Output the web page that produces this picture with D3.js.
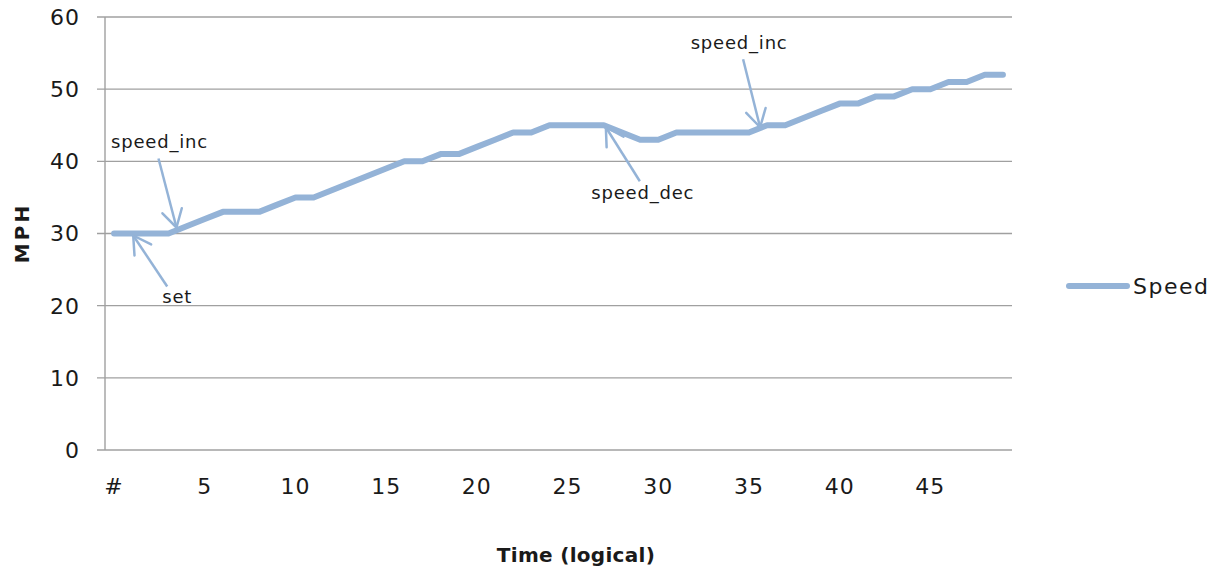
<!DOCTYPE html>
<html>
<head>
<meta charset="utf-8">
<script src="https://cdn.jsdelivr.net/npm/d3@7"></script>
<style>
  html, body { margin: 0; padding: 0; background: #fff; }
  svg { display: block; }
</style>
</head>
<body>
<svg id="chart" width="1228" height="574"></svg>
<script>
// ---- data ----
const categories = d3.range(0, 50);
const speed = [
  30, 30, 30, 30, 31, 32, 33, 33, 33, 34,
  35, 35, 36, 37, 38, 39, 40, 40, 41, 41,
  42, 43, 44, 44, 45, 45, 45, 45, 44, 43,
  43, 44, 44, 44, 44, 44, 45, 45, 46, 47,
  48, 48, 49, 49, 50, 50, 51, 51, 52, 52
];
const xTickIndices = [0, 5, 10, 15, 20, 25, 30, 35, 40, 45];
const xTickLabels = ["#", "5", "10", "15", "20", "25", "30", "35", "40", "45"];
const yTicks = [0, 10, 20, 30, 40, 50, 60];
const seriesName = "Speed";
const annoLabels = ["set", "speed_inc", "speed_dec", "speed_inc"];
const annoIndex = [1, 3, 27, 36];
const annoValue = [30, 30, 45, 45];

// ---- layout ----
const plot = { left: 105, right: 1012, top: 17, bottom: 450 };
const lineColor = "#94B3D7";
const gridColor = "#a0a0a0";
const textColor = "#1a1a1a";
const font = "'DejaVu Sans', sans-serif";
// annotation geometry offsets (tip, tail, text) relative to the anchor data point
const annoGeom = [
  { tip: [1, 2],  tail: [35, 53],   text: [45, 69] },
  { tip: [8, -6], tail: [-10, -75], text: [-9, -86] },
  { tip: [2, 2],  tail: [36, 56],   text: [39, 74] },
  { tip: [-7, 2], tail: [-24, -66], text: [-28, -76] }
];

const svg = d3.select("#chart");

const x = d3.scalePoint()
  .domain(categories)
  .range([plot.left, plot.right])
  .padding(0.5);

const y = d3.scaleLinear()
  .domain([0, 60])
  .range([plot.bottom, plot.top]);

// gridlines
svg.append("g")
  .selectAll("line")
  .data(yTicks)
  .join("line")
  .attr("x1", plot.left - 8)
  .attr("x2", plot.right)
  .attr("y1", d => y(d))
  .attr("y2", d => y(d))
  .attr("stroke", gridColor)
  .attr("stroke-width", 1.4);

// y axis line
svg.append("line")
  .attr("x1", plot.left).attr("x2", plot.left)
  .attr("y1", plot.top).attr("y2", plot.bottom)
  .attr("stroke", gridColor)
  .attr("stroke-width", 1.4);

// y tick labels
svg.append("g")
  .selectAll("text")
  .data(yTicks)
  .join("text")
  .attr("x", 80)
  .attr("y", d => y(d))
  .attr("dy", "0.36em")
  .attr("text-anchor", "end")
  .attr("font-family", font)
  .attr("font-size", 22)
  .attr("letter-spacing", 1)
  .attr("fill", textColor)
  .text(d => d);

// x tick labels
svg.append("g")
  .selectAll("text")
  .data(xTickIndices)
  .join("text")
  .attr("x", d => x(d))
  .attr("y", 494)
  .attr("text-anchor", "middle")
  .attr("font-family", font)
  .attr("font-size", 22)
  .attr("letter-spacing", 1)
  .attr("fill", textColor)
  .text((d, i) => xTickLabels[i]);

// axis titles
svg.append("text")
  .attr("x", 576)
  .attr("y", 562)
  .attr("text-anchor", "middle")
  .attr("font-family", font)
  .attr("font-weight", "bold")
  .attr("font-size", 20)
  .attr("letter-spacing", 0.3)
  .attr("fill", textColor)
  .text("Time (logical)");

svg.append("text")
  .attr("transform", "translate(29,233) rotate(-90)")
  .attr("text-anchor", "middle")
  .attr("font-family", font)
  .attr("font-weight", "bold")
  .attr("font-size", 20)
  .attr("letter-spacing", 3)
  .attr("fill", textColor)
  .text("MPH");

// series line
const line = d3.line()
  .x((d, i) => x(categories[i]))
  .y(d => y(d));

svg.append("path")
  .datum(speed)
  .attr("d", line)
  .attr("fill", "none")
  .attr("stroke", lineColor)
  .attr("stroke-width", 6)
  .attr("stroke-linejoin", "round")
  .attr("stroke-linecap", "round");

// annotations
const annoG = svg.append("g");
annoLabels.forEach((label, k) => {
  const px = x(annoIndex[k]);
  const py = y(annoValue[k]);
  const g = annoGeom[k];
  const tip = [px + g.tip[0], py + g.tip[1]];
  const tail = [px + g.tail[0], py + g.tail[1]];
  annoG.append("line")
    .attr("x1", tail[0]).attr("y1", tail[1])
    .attr("x2", tip[0]).attr("y2", tip[1])
    .attr("stroke", lineColor)
    .attr("stroke-width", 2.5);
  const ang = Math.atan2(tail[1] - tip[1], tail[0] - tip[0]);
  const len = 20, spread = Math.PI / 6;
  [ang - spread, ang + spread].forEach(a => {
    annoG.append("line")
      .attr("x1", tip[0]).attr("y1", tip[1])
      .attr("x2", tip[0] + len * Math.cos(a))
      .attr("y2", tip[1] + len * Math.sin(a))
      .attr("stroke", lineColor)
      .attr("stroke-width", 2.5)
      .attr("stroke-linecap", "round");
  });
  annoG.append("text")
    .attr("x", px + g.text[0])
    .attr("y", py + g.text[1])
    .attr("text-anchor", "middle")
    .attr("font-family", font)
    .attr("font-size", 18)
    .attr("letter-spacing", 0.8)
    .attr("fill", textColor)
    .text(label);
});

// legend
const legend = svg.append("g");
legend.append("line")
  .attr("x1", 1069).attr("x2", 1127)
  .attr("y1", 286).attr("y2", 286)
  .attr("stroke", lineColor)
  .attr("stroke-width", 6)
  .attr("stroke-linecap", "round");
legend.append("text")
  .attr("x", 1133)
  .attr("y", 286)
  .attr("dy", "0.36em")
  .attr("font-family", font)
  .attr("font-size", 22)
  .attr("letter-spacing", 1.5)
  .attr("fill", textColor)
  .text(seriesName);
</script>
</body>
</html>
